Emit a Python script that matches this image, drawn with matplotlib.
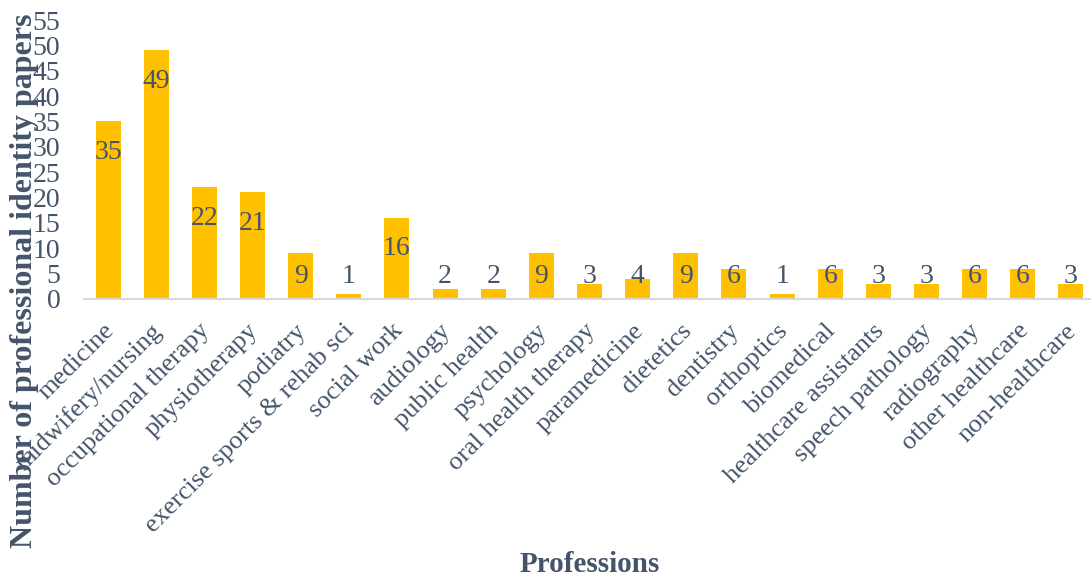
import matplotlib
matplotlib.use("Agg")
import matplotlib.pyplot as plt
from matplotlib.transforms import ScaledTranslation

professions = [
    "medicine", "midwifery/nursing", "occupational therapy", "physiotherapy",
    "podiatry", "exercise sports & rehab sci", "social work", "audiology",
    "public health", "psychology", "oral health therapy", "paramedicine",
    "dietetics", "dentistry", "orthoptics", "biomedical",
    "healthcare assistants", "speech pathology", "radiography",
    "other healthcare", "non-healthcare",
]
papers = [35, 49, 22, 21, 9, 1, 16, 2, 2, 9, 3, 4, 9, 6, 1, 6, 3, 3, 6, 6, 3]

BAR = "#FFC000"
TEXT = "#44546A"
AXIS = "#D9D9D9"

plt.rcParams["font.family"] = ["Liberation Serif", "DejaVu Serif"]

fig = plt.figure(figsize=(10.91, 5.78), dpi=100)
ax = fig.add_axes([84 / 1091, (578 - 299) / 578, (1095 - 84) / 1091, 279 / 578])

x = list(range(len(professions)))
ax.bar(x, papers, width=0.52, color=BAR, zorder=2)

# value labels sit just inside the top of each bar, floored near the base
for xi, v in zip(x, papers):
    ax.text(xi, max(v - 6.1, 4.5), str(v), ha="center", va="center",
            fontsize=20, color=TEXT, zorder=3)

ax.set_xlim(-0.5, len(professions) - 0.5)
ax.set_ylim(0, 55)
ax.set_yticks(range(0, 56, 5))
ax.tick_params(axis="y", length=0, labelsize=20, labelcolor=TEXT, pad=17)
ax.set_xticks(x)
ax.set_xticklabels(professions, rotation=45, ha="right", va="top",
                   fontsize=19, color=TEXT)
ax.tick_params(axis="x", length=0, pad=15)
shift = ScaledTranslation(10 / 100, 0, fig.dpi_scale_trans)
for lbl in ax.get_xticklabels():
    lbl.set_transform(lbl.get_transform() + shift)

for side in ("top", "right", "left"):
    ax.spines[side].set_visible(False)
ax.spines["bottom"].set_color(AXIS)
ax.spines["bottom"].set_linewidth(1.5)

fig.text(25 / 1091, 1 - 281 / 578, "Number of professional identity papers",
         rotation=90, ha="center", va="center", fontsize=23,
         fontweight="bold", color=TEXT)
fig.text(590 / 1091, 1 - 565 / 578, "Professions", ha="center", va="center",
         fontsize=21, fontweight="bold", color=TEXT)

fig.savefig("out.png", dpi=100)
